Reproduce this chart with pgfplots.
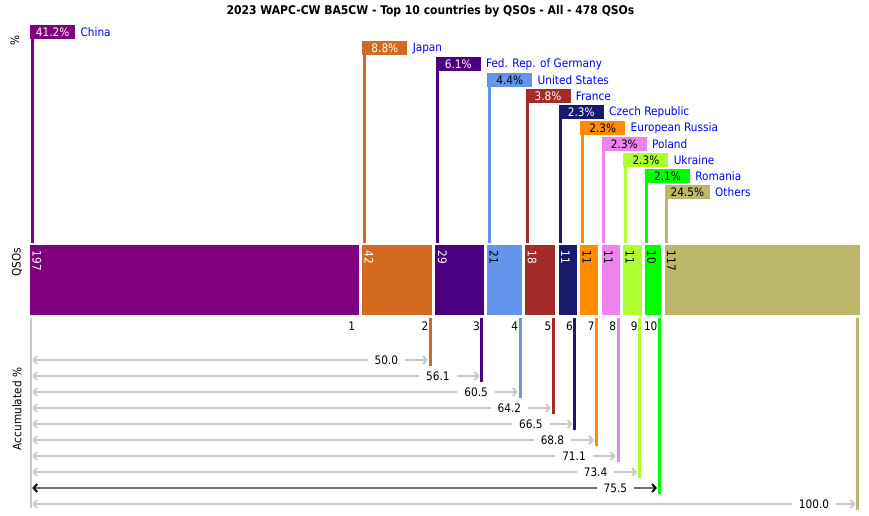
\documentclass[border=0pt]{standalone}
\usepackage{fontspec}
\setmainfont{DejaVu Sans Condensed}
\usepackage{pgfplots}
\pgfplotsset{compat=1.18}
\usetikzlibrary{arrows.meta}
\definecolor{cChina}{RGB}{128,0,128}
\definecolor{cJapan}{RGB}{210,105,30}
\definecolor{cGermany}{RGB}{75,0,130}
\definecolor{cUS}{RGB}{100,149,237}
\definecolor{cFrance}{RGB}{165,42,42}
\definecolor{cCzech}{RGB}{25,25,112}
\definecolor{cRussia}{RGB}{255,140,0}
\definecolor{cPoland}{RGB}{238,130,238}
\definecolor{cUkraine}{RGB}{173,255,47}
\definecolor{cRomania}{RGB}{0,255,0}
\definecolor{cOthers}{RGB}{189,183,107}
\definecolor{accgray}{RGB}{200,200,200}
\definecolor{accdark}{RGB}{112,112,112}
\definecolor{nameblue}{RGB}{0,0,255}
\newcommand{\fs}{\fontsize{11.7}{13}\selectfont}

% #1 start  #2 end  #3 QSOs  #4 colour  #5 text colour  #6 percent  #7 name  #8 label top y  #9 index
\newcommand\Country[9]{%
  \addplot[draw=none, fill=#4] coordinates {(#1,244.5) (#2,244.5) (#2,314.5) (#1,314.5)};
  \addplot[draw=#4, line width=3pt, xshift=2pt] coordinates {(#1,#8) (#1,243)};
  \node[fill=#4, text=#5, anchor=north west, minimum width=45pt, minimum height=14pt,
        inner sep=0pt, font=\fs] (b#9) at (axis cs:#1,#8) {#6\%};
  \node[anchor=west, text=nameblue, font=\fs, inner sep=0pt] at ([xshift=5pt]b#9.east) {#7};
  \node[rotate=-90, anchor=south west, text=#5, font=\fs, inner sep=0pt]
        at ([xshift=2.3pt]axis cs:#1,250.5) {#3};
}
% #1 end  #2 colour  #3 row y  #4 line end y  #5 accumulated  #6 index label  #7 line colour  #8 tip colour
\newcommand\Acc[8]{%
  \addplot[draw=#2, line width=3pt, xshift=-2pt] coordinates {(#1,318) (#1,#4)};
  \addplot[draw=#7, line width=2pt, shorten <=2.3pt, shorten >=4.5pt,
           {Straight Barb[length=3.5pt,width=8pt,color=#8]}-{Straight Barb[length=3.5pt,width=8pt,color=#8]}]
        coordinates {(0,#3) (#1,#3)};
  \node[fill=white, inner xsep=7pt, inner ysep=1pt, font=\fs] at ([xshift=-46pt]axis cs:#1,#3) {#5};
  \node[anchor=east, inner sep=0pt, font=\fs] at ([xshift=-3.8pt]axis cs:#1,326.5) {#6};
}

\begin{document}
\begin{tikzpicture}
\begin{axis}[
  width=869pt, height=515pt, scale only axis, hide axis, clip=false,
  xmin=-17.964, xmax=502.4, ymin=0, ymax=515, y dir=reverse,
  every axis plot post/.append style={mark=none},
]
\path (rel axis cs:0,0) rectangle (rel axis cs:1,1);

\node[font=\fontsize{12}{14}\selectfont\bfseries] at (axis cs:239.8,11.5)
  {2023 WAPC-CW BA5CW - Top 10 countries by QSOs - All - 478 QSOs};
\node[rotate=90, font=\fs] at (axis cs:-9.0,40) {\%};
\node[rotate=90, font=\fs] at (axis cs:-7.8,262) {QSOs};
\node[rotate=90, font=\fs] at (axis cs:-7.8,409) {Accumulated \%};

\Country{0}{197}{197}{cChina}{white}{41.2}{China}{25}{1}
\Country{198.9}{240.9}{42}{cJapan}{white}{8.8}{Japan}{41}{2}
\Country{242.8}{271.8}{29}{cGermany}{white}{6.1}{Fed. Rep. of Germany}{57}{3}
\Country{273.7}{294.7}{21}{cUS}{black}{4.4}{United States}{73}{4}
\Country{296.6}{314.6}{18}{cFrance}{white}{3.8}{France}{89}{5}
\Country{316.5}{327.5}{11}{cCzech}{white}{2.3}{Czech Republic}{105}{6}
\Country{329.4}{340.4}{11}{cRussia}{black}{2.3}{European Russia}{121}{7}
\Country{342.3}{353.3}{11}{cPoland}{black}{2.3}{Poland}{137}{8}
\Country{355.2}{366.2}{11}{cUkraine}{black}{2.3}{Ukraine}{153}{9}
\Country{368.1}{378.1}{10}{cRomania}{black}{2.1}{Romania}{169}{10}
\Country{380}{497}{117}{cOthers}{black}{24.5}{Others}{185}{11}

\addplot[draw=accgray, line width=2pt, xshift=0.5pt] coordinates {(0,318) (0,508)};
\node[anchor=east, inner sep=0pt, font=\fs] at ([xshift=-3.8pt]axis cs:197,326.5) {1};
\Acc{240.9}{cJapan}{360}{366}{50.0}{2}{accgray}{accgray}
\Acc{271.8}{cGermany}{376}{382}{56.1}{3}{accgray}{accgray}
\Acc{294.7}{cUS}{392}{398}{60.5}{4}{accgray}{accgray}
\Acc{314.6}{cFrance}{408}{414}{64.2}{5}{accgray}{accgray}
\Acc{327.5}{cCzech}{424}{430}{66.5}{6}{accgray}{accgray}
\Acc{340.4}{cRussia}{440}{446}{68.8}{7}{accgray}{accgray}
\Acc{353.3}{cPoland}{456}{462}{71.1}{8}{accgray}{accgray}
\Acc{366.2}{cUkraine}{472}{478}{73.4}{9}{accgray}{accgray}
\Acc{378.1}{cRomania}{488}{494}{75.5}{10}{accdark}{black}
\Acc{497}{cOthers}{504}{510}{100.0}{}{accgray}{accgray}
\end{axis}
\end{tikzpicture}
\end{document}
